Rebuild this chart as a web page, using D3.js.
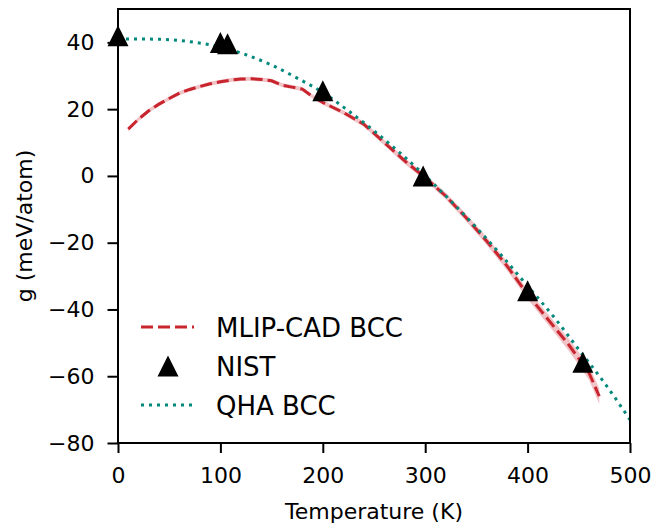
<!DOCTYPE html>
<html><head><meta charset="utf-8">
<script src="https://cdn.jsdelivr.net/npm/d3@7"></script>
<style>body{margin:0;background:#fff}text{font-family:"DejaVu Sans",sans-serif}</style>
</head><body><svg id="c" width="654" height="528"></svg>
<script>
const xTicks=[0,100,200,300,400,500];
const yTicks=[-80,-60,-40,-20,0,20,40];
const mlipT=[10,20,30,40,50,60,70,80,90,100,110,120,130,140,150,160,170,180,190,200,220,240,260,280,300,320,340,360,380,400,420,440,460,470];
const mlipG=[14,17,19.5,21.5,23.2,24.8,25.9,26.8,27.6,28.2,28.7,29.0,29.1,28.9,28.5,27.2,26.6,26.0,23.8,22.0,19,15.5,10,4.5,-0.5,-6,-12.5,-19.5,-27,-35.5,-43,-50.5,-59,-66];
const mlipErr=[0.6,0.6,0.6,0.6,0.6,0.6,0.6,0.6,0.6,0.6,0.6,0.6,0.6,0.6,0.6,0.6,0.6,0.6,0.6,0.7,0.7,0.8,0.8,0.9,0.9,1.0,1.1,1.2,1.3,1.4,1.6,1.8,2.1,2.3];
const nistT=[0,100,107,200,298,400,454];
const nistG=[42,40,39.6,25.5,0,-34.4,-55.8];
const qhaT=[0,25,50,75,100,125,150,175,200,225,250,275,300,325,350,375,400,425,450,475,500];
const qhaG=[41.0,41.0,40.8,40.0,38.6,36.3,33.2,29.3,25.0,19.5,13.5,7,0,-7.5,-15.5,-24,-33,-42,-52,-62,-73];
const legendLabels=["MLIP-CAD BCC","NIST","QHA BCC"];

const svg=d3.select("#c");
const L=118,R=630,T=9,B=443;
const x=d3.scaleLinear().domain([0,500]).range([L,R]);
const y=d3.scaleLinear().domain([-80,50]).range([B,T]);
const red="#c9252f",pink="#f2c3c6",teal="#00897b";

svg.append("clipPath").attr("id","cp").append("rect").attr("x",L).attr("y",T).attr("width",R-L).attr("height",B-T);
const g=svg.append("g").attr("clip-path","url(#cp)");

const band=mlipT.map((t,i)=>({t,lo:mlipG[i]-mlipErr[i],hi:mlipG[i]+mlipErr[i]}));
g.append("path").datum(band).attr("fill",pink).attr("d",d3.area().x(d=>x(d.t)).y0(d=>y(d.lo)).y1(d=>y(d.hi)));
g.append("path").datum(mlipT.map((t,i)=>[t,mlipG[i]])).attr("fill","none").attr("stroke",red).attr("stroke-width",3).attr("stroke-dasharray","12,5")
 .attr("d",d3.line().x(d=>x(d[0])).y(d=>y(d[1])));

const h=10.5;
const tri=`M0,${-h}L${h},${h}L${-h},${h}Z`;
svg.append("g").selectAll("path").data(nistT.map((t,i)=>[t,nistG[i]])).join("path")
 .attr("transform",d=>`translate(${x(d[0])},${y(d[1])})`).attr("d",tri).attr("fill","#000");

g.append("path").datum(qhaT.map((t,i)=>[t,qhaG[i]])).attr("fill","none").attr("stroke",teal).attr("stroke-width",3).attr("stroke-dasharray","3,5")
 .attr("d",d3.line().curve(d3.curveMonotoneX).x(d=>x(d[0])).y(d=>y(d[1])));

const xa=svg.append("g").attr("transform",`translate(0,${B})`).call(d3.axisBottom(x).tickValues(xTicks).tickSize(10).tickPadding(14).tickFormat(d3.format("d")));
const ya=svg.append("g").attr("transform",`translate(${L},0)`).call(d3.axisLeft(y).tickValues(yTicks).tickSize(10.5).tickPadding(13).tickFormat(d=>d<0?"\u2212"+(-d):d));
[xa,ya].forEach(a=>{a.select(".domain").remove();a.selectAll("line").attr("stroke","#000").attr("stroke-width",2);a.selectAll("text").attr("font-size",22).attr("fill","#000").attr("font-family","DejaVu Sans");});
svg.append("rect").attr("x",L).attr("y",T).attr("width",R-L).attr("height",B-T).attr("fill","none").attr("stroke","#000").attr("stroke-width",2);

svg.append("text").attr("x",(L+R)/2).attr("y",519).attr("text-anchor","middle").attr("font-size",22).text("Temperature (K)");
svg.append("text").attr("transform",`translate(32,${(T+B)/2}) rotate(-90)`).attr("text-anchor","middle").attr("font-size",22).text("g (meV/atom)");

const lg=svg.append("g");
const ly=[327,366,405];
lg.append("line").attr("x1",141).attr("x2",194).attr("y1",ly[0]).attr("y2",ly[0]).attr("stroke",red).attr("stroke-width",3).attr("stroke-dasharray","12,5");
lg.append("path").attr("transform",`translate(168,${ly[1]})`).attr("d",tri).attr("fill","#000");
lg.append("line").attr("x1",141).attr("x2",194).attr("y1",ly[2]).attr("y2",ly[2]).attr("stroke",teal).attr("stroke-width",3).attr("stroke-dasharray","3,5");
legendLabels.forEach((s,i)=>lg.append("text").attr("x",216).attr("y",ly[i]+9.5).attr("font-size",26).text(s));
</script></body></html>
